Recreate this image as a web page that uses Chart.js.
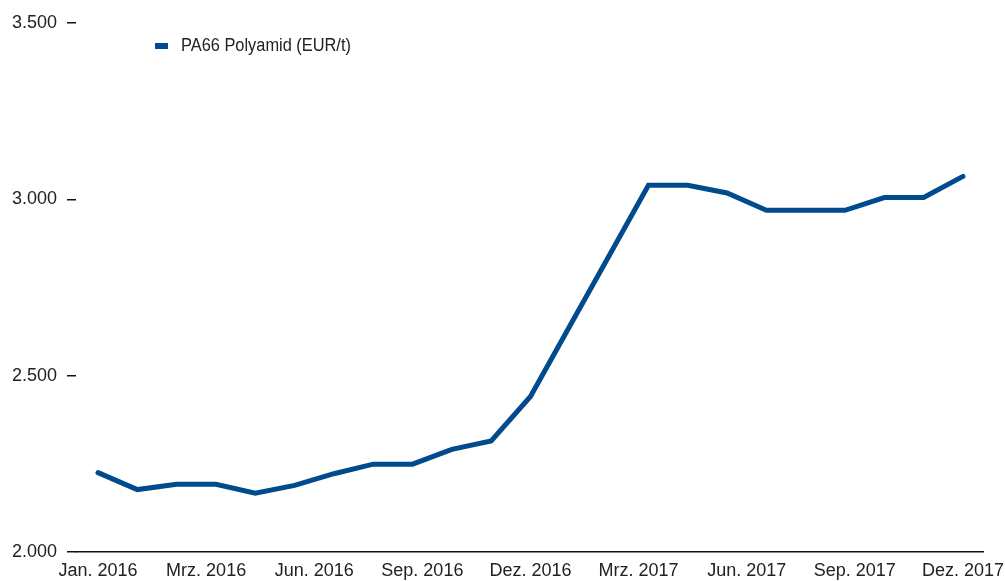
<!DOCTYPE html>
<html>
<head>
<meta charset="utf-8">
<script src="https://cdn.jsdelivr.net/npm/chart.js@4"></script>
<style>
  html, body { margin: 0; padding: 0; background: #fff; }
  #wrap { width: 1005px; height: 581px; }
</style>
</head>
<body>
<div id="wrap"><canvas id="priceChart" width="1005" height="581"></canvas></div>
<script>
const seriesLabel = "PA66 Polyamid (EUR/t)";
// monthly values
const prices = [2225, 2177, 2192, 2192, 2167, 2189, 2222, 2249, 2249, 2291, 2315, 2441,
  2641, 2840, 3040, 3040, 3018, 2969, 2969, 2969, 3005, 3005, 3065];
const tickLabels = ["Jan. 2016", "Mrz. 2016", "Jun. 2016", "Sep. 2016", "Dez. 2016",
  "Mrz. 2017", "Jun. 2017", "Sep. 2017", "Dez. 2017"];
const yTicks = [2000, 2500, 3000, 3500];

const lineColor = "#004b8d";
const textColor = "#222";
const fontFamily = "'Liberation Sans', Arial, sans-serif";

const lastIdx = prices.length - 1;

// legend drawn inside the plot, like the original (text squeezed a bit, original font is condensed)
const innerLegend = {
  id: "innerLegend",
  afterDraw(chart) {
    const c = chart.ctx;
    c.save();
    c.fillStyle = lineColor;
    c.fillRect(155, 43, 13, 6);
    c.fillStyle = textColor;
    c.font = "18px " + fontFamily;
    c.textBaseline = "middle";
    c.translate(181, 46.5);
    c.scale(0.91, 1);
    c.fillText(chart.data.datasets[0].label, 0, 0);
    c.restore();
  }
};

const ctx = document.getElementById("priceChart").getContext("2d");
const priceChart = new Chart(ctx, {
  type: "line",
  data: {
    datasets: [
      {
        label: seriesLabel,
        data: prices.map((v, i) => ({ x: i, y: v })),
        borderColor: lineColor,
        borderWidth: 5,
        borderCapStyle: "round",
        borderJoinStyle: "miter",
        pointRadius: 0,
        tension: 0,
        fill: false,
      },
    ],
  },
  options: {
    responsive: false,
    animation: false,
    layout: { padding: { top: 23, right: 22, left: 0, bottom: 0 } },
    plugins: {
      legend: { display: false },
      tooltip: { enabled: false },
    },
    scales: {
      x: {
        type: "linear",
        min: -0.56,
        max: lastIdx + 0.51,
        border: { display: true, color: "#111", width: 1.5 },
        grid: { display: false, drawTicks: false },
        afterBuildTicks: (scale) => {
          scale.ticks = tickLabels.map((l, i) => ({ value: i * lastIdx / (tickLabels.length - 1) }));
        },
        afterFit: (scale) => {
          scale.height = 29;
          scale.paddingLeft = 0;
          scale.paddingRight = 0;
        },
        ticks: {
          autoSkip: false,
          maxRotation: 0,
          padding: 8,
          color: textColor,
          font: { family: fontFamily, size: 18 },
          callback: (value, index) => tickLabels[index],
        },
      },
      y: {
        min: 2000,
        max: 3500,
        border: { display: false },
        grid: { drawOnChartArea: false, drawTicks: true, tickLength: 9, color: "#111", lineWidth: 1.5 },
        afterBuildTicks: (scale) => {
          scale.ticks = yTicks.map((v) => ({ value: v }));
        },
        afterFit: (scale) => { scale.width = 76; },
        ticks: {
          padding: 10,
          color: textColor,
          font: { family: fontFamily, size: 18 },
          callback: (value) => value.toLocaleString("de-DE"),
        },
      },
    },
  },
  plugins: [innerLegend],
});
</script>
</body>
</html>
